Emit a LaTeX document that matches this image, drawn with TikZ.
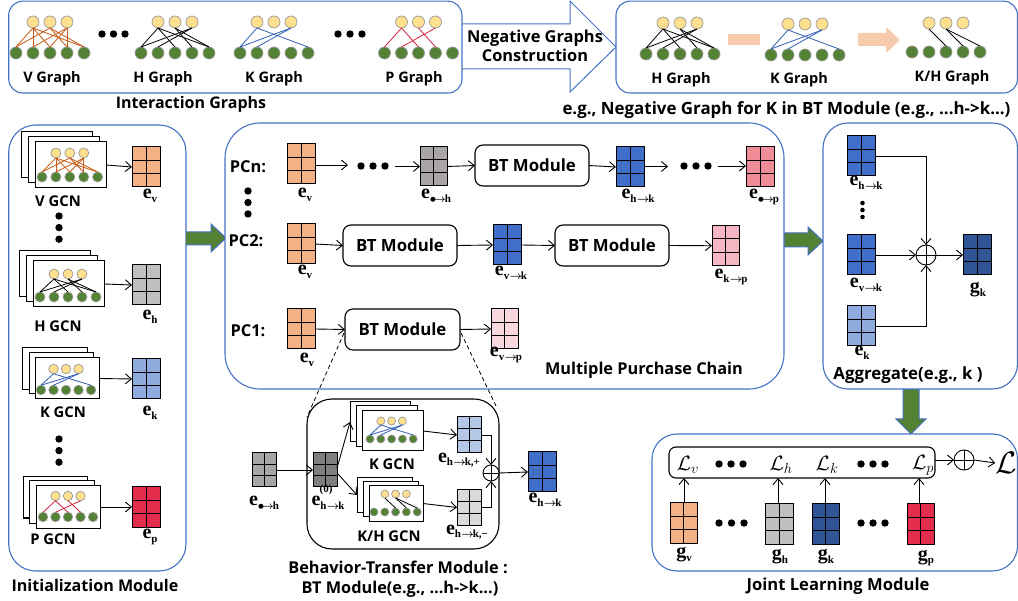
\documentclass[tikz,border=0pt]{standalone}
\usepackage{fontspec}
\setmainfont{Open Sans}
\newfontfamily\eserif{Liberation Serif}
\usetikzlibrary{arrows.meta,calc}
\definecolor{bdblue}{HTML}{4472C4}
\definecolor{gcolor}{HTML}{548235}
\definecolor{ycolor}{HTML}{FFE08E}
\definecolor{orangeE}{HTML}{F4B183}
\definecolor{grayE}{HTML}{BFBFBF}
\definecolor{grayM}{HTML}{A9A5A5}
\definecolor{grayD}{HTML}{7F7F7F}
\definecolor{grayL}{HTML}{D9D9D9}
\definecolor{grayA}{HTML}{A6A6A6}
\definecolor{blueL}{HTML}{8FAADC}
\definecolor{blueLL}{HTML}{B4C7E7}
\definecolor{blueM}{HTML}{3F6FC8}
\definecolor{blueD}{HTML}{2F5597}
\definecolor{redE}{HTML}{E32D4D}
\definecolor{pinkA}{HTML}{F08C97}
\definecolor{pinkB}{HTML}{F4B6C2}
\definecolor{pinkC}{HTML}{F8D7DF}
\definecolor{salmon}{HTML}{F8CBAD}
\definecolor{edgeO}{HTML}{C55A11}
\definecolor{edgeB}{HTML}{2F5FB5}
\definecolor{edgeR}{HTML}{D6203F}
\tikzset{
  txt/.style={inner sep=0pt,outer sep=0pt,anchor=center,align=center},
  gridcell/.style={draw=black,line width=1pt,inner sep=0pt,outer sep=0pt},
  gridline/.style={line width=1pt,draw=black},
  arr/.style={line width=0.9pt,-{Straight Barb[length=6pt,width=10pt]}},
  plain/.style={line width=0.9pt},
  outerbox/.style={draw=bdblue,line width=1.1pt,fill=white,inner sep=0pt,outer sep=0pt},
  blackbox/.style={draw=black,line width=1.1pt,fill=white,inner sep=0pt,outer sep=0pt},
  sheet/.style={draw=black,line width=1pt,fill=white,inner sep=0pt,outer sep=0pt},
  topn/.style={circle,fill=ycolor,draw=gray!80,line width=0.7pt,inner sep=0pt,outer sep=0pt},
  botn/.style={circle,fill=gcolor,draw=gray!80,line width=0.7pt,inner sep=0pt,outer sep=0pt},
  oplusn/.style={circle,draw=black,line width=0.9pt,fill=white,inner sep=0pt,outer sep=0pt,minimum size=#1,
    path picture={\draw[line width=0.8pt] (path picture bounding box.north)--(path picture bounding box.south)
      (path picture bounding box.west)--(path picture bounding box.east);}},
  greenarrow/.style={fill=gcolor,draw=bdblue,line width=1pt},
  dashedline/.style={dashed,line width=0.8pt,dash pattern=on 4pt off 3pt}
}
% rectangle node from its corners
\newcommand\Rct[6]{\pgfmathsetmacro\rw{#4-#2}\pgfmathsetmacro\rh{#5-#3}%
  \node[#6,minimum width=\rw pt,minimum height=\rh pt] (#1) at ({(#2+#4)/2},{(#3+#5)/2}) {};}
% embedding grid, 2 x 3
\newcommand\Grid[6]{\Rct{#1}{#2}{#3}{#4}{#5}{gridcell,fill=#6}%
  \draw[gridline] (#1.north)--(#1.south)
   ($(#1.north west)!1/3!(#1.south west)$)--($(#1.north east)!1/3!(#1.south east)$)
   ($(#1.north west)!2/3!(#1.south west)$)--($(#1.north east)!2/3!(#1.south east)$);}
% bipartite graph
\newcommand\Bip[8]{%
  \foreach \i in {1,...,5}{\node[botn,minimum size=#6 pt] (#1-b\i) at ({#2+(\i-1)*#5},#4) {};}
  \foreach \i in {1,2,3}{\node[topn,minimum size=#6 pt] (#1-t\i) at ({#2+\i*#5},#3) {};}
  \foreach \a/\b in {#8}{\draw[#7,line width=0.8pt] (#1-t\a.south)--(#1-b\b.north);}}
% three dots
\newcommand\Dots[5]{\foreach \i in {0,1,2}{\fill[black] ({#1+\i*#3},{#2+\i*#4}) circle (#5);}}
% bold sans text, y is the middle of the capitals
\newcommand\T[5]{\node[txt,anchor=base,font=\fontsize{#4}{#4}\selectfont\bfseries] (#1) at (#2,{#3+0.357*#4}) {#5};}
% serif label with subscript
\newcommand\Ra{\kern0.3pt{\boldmath$\rightarrow$}\kern-1.2pt}
\newcommand\Bu{{\boldmath$\bullet$}\kern-3pt}
\newcommand\E[5][e]{\node[txt,font=\eserif\bfseries] (#2) at (#3,#4) {\fontsize{20}{20}\selectfont #1\raisebox{-3.5pt}{\fontsize{11}{11}\selectfont #5}};}
\newcommand\BTM[3]{\node[txt,font=\fontsize{16.8}{16.8}\selectfont\bfseries] (#1) at (#2) {#3};}
\begin{document}
\begin{tikzpicture}[x=1pt,y=-1pt]
\useasboundingbox (0,0) rectangle (1018,601);
\fill[white] (0,0) rectangle (1018,601);

% ---------- big arrow
\draw[draw=bdblue,line width=1pt,fill=white] (462,24)--(570,24)--(570,1)--(616,47)--(570,92)--(570,69)--(462,69);
\T{negA}{535}{37}{16.4}{Negative Graphs}
\T{negB}{535}{56}{16.4}{Construction}

% ---------- interaction graphs
\Rct{igbox}{8.7}{1.2}{462}{93}{outerbox,rounded corners=14}
\Bip{gv}{16}{22}{53}{17}{12}{edgeO}{1/1,1/2,1/3,1/5,2/1,2/4,2/5,3/2,3/3,3/4}
\Bip{gh}{141}{22}{53}{17}{12}{black}{1/1,1/3,1/5,2/4,2/5,3/1,3/2}
\Bip{gk}{240}{22}{53}{17}{12}{edgeB}{1/1,1/5,3/1,3/2}
\Bip{gp}{384.5}{22}{53}{17}{12}{edgeR}{1/1,1/3,2/4,3/2}
\Dots{102}{34}{11.5}{0}{3.7}
\Dots{338}{34}{12}{0}{3.7}
\T{lv}{52}{77}{14.5}{V Graph}
\T{lh}{163}{77}{14.5}{H Graph}
\T{lk}{274}{77}{14.5}{K Graph}
\T{lp}{414}{77}{14.5}{P Graph}
\T{lig}{191}{103}{16}{Interaction Graphs}

% ---------- negative graph example
\Rct{ngbox}{616}{1.2}{1017.5}{93}{outerbox,rounded corners=14}
\Bip{nh}{646}{23}{54}{17}{12}{black}{1/1,1/3,1/5,2/4,2/5,3/1,3/2}
\Bip{nk}{771}{24}{55}{17}{12}{edgeB}{1/1,1/5,3/1,3/2}
\Bip{nd}{912}{23}{52}{17}{12}{black}{1/3,2/4,2/5}
\fill[salmon] (728,34) rectangle (760,45);
\fill[salmon] (858,33)--(886,33)--(886,27)--(900,40)--(886,53)--(886,46)--(858,46)--cycle;
\T{lnh}{681}{78}{14.5}{H Graph}
\T{lnk}{799}{78}{14.5}{K Graph}
\T{lnd}{952}{76}{14.5}{K/H Graph}
\T{lng}{786.5}{108}{16.9}{e.g., Negative Graph for K in BT Module (e.g., ...h->k...)}

% ---------- initialization module
\Rct{inbox}{8.7}{125}{186}{571}{outerbox,rounded corners=27}
% V
\Rct{sv1}{21.7}{131.7}{92.3}{178}{sheet}\Rct{sv2}{28}{137}{99.5}{183}{sheet}\Rct{sv3}{35}{142}{106}{188}{sheet}
\Bip{iv}{42}{153}{177}{13.9}{10}{edgeO}{1/1,1/2,1/3,1/5,2/1,2/4,2/5,3/2,3/3,3/4}
\Grid{ev}{132}{147}{160}{187}{orangeE}
\draw[arr] (sv3.east)--(ev.west);
\E{lev}{150}{196}{v}
\T{lvg}{58}{201}{14.8}{V GCN}
\Dots{59}{216}{0}{11.6}{3.7}
% H
\Rct{sh1}{19}{250.7}{90}{296.7}{sheet}\Rct{sh2}{26}{255.7}{97}{301.7}{sheet}\Rct{sh3}{33}{261}{104}{307}{sheet}
\Bip{ih}{40}{274}{297}{14}{10}{black}{1/1,1/3,1/5,2/4,2/5,3/1,3/2}
\Grid{eh}{132}{265}{160}{305}{grayE}
\draw[arr] (sh3.east)--(eh.west);
\E{leh}{150}{317}{h}
\T{lhg}{58}{326}{14.8}{H GCN}
% K
\Rct{sk1}{22.3}{348}{87}{390}{sheet}\Rct{sk2}{29}{353}{93}{394}{sheet}\Rct{sk3}{35}{358}{99}{399}{sheet}
\Bip{ik}{41}{369}{390}{12.5}{9.5}{edgeB}{1/1,1/5,3/1,3/2}
\Grid{ek}{132}{359}{160}{399}{blueL}
\draw[arr] (sk3.east)--(ek.west);
\E{lek}{150}{413}{k}
\T{lkg}{63}{412}{14.8}{K GCN}
\Dots{59}{439}{0}{11.6}{3.7}
% P
\Rct{sp1}{23}{476.7}{87}{518}{sheet}\Rct{sp2}{29}{481}{94}{523}{sheet}\Rct{sp3}{36}{486}{100}{528}{sheet}
\Bip{ip}{43}{496}{517}{12.5}{9.5}{edgeR}{1/1,1/3,2/4,3/2}
\Grid{ep}{132}{487}{160}{527}{redE}
\draw[arr] (sp3.east)--(ep.west);
\E{lep}{150}{537}{p}
\T{lpg}{53}{539}{14.8}{P GCN}
\T{linit}{95}{586}{16.1}{Initialization Module}

% green arrows
\draw[greenarrow] (186,232)--(211,232)--(211,224)--(226,238)--(211,252)--(211,245)--(186,245);
\draw[greenarrow] (784,233)--(808,233)--(808,227)--(823,241)--(808,255)--(808,247)--(784,247);
\draw[greenarrow] (903,389)--(903,419)--(896,419)--(911,434)--(926,419)--(919,419)--(919,389);

% ---------- multiple purchase chain
\Rct{pcbox}{225}{123}{784}{389}{outerbox,rounded corners=35}
\T{pcn}{248}{167}{16.4}{PCn:}
\T{pc2}{246}{241}{16.4}{PC2:}
\T{pc1}{248}{331}{16.4}{PC1:}
\Dots{248}{191}{0}{11.5}{3.7}
% PCn
\Grid{nv}{287}{144}{315}{184}{orangeE}
\Grid{nhh}{420}{147}{447}{186}{grayM}
\Rct{nbt}{475}{145}{589}{186}{blackbox,rounded corners=8}
\BTM{nbtl}{nbt}{BT Module}
\Grid{nbk}{616}{147}{644}{187}{blueM}
\Grid{npp}{746}{147}{774}{187}{pinkA}
\Dots{361}{166}{12}{0}{3.7}
\Dots{684}{166}{12}{0}{3.7}
\coordinate (na) at (348,165);\coordinate (nb) at (395,166.5);\coordinate (nc) at (668,166.5);\coordinate (nd) at (718,166);
\draw[arr] (nv.east |- na)--(na);
\draw[arr] (nb)--(nhh.west |- nb);
\draw[arr] (nhh.east)--(nbt.west);
\draw[arr] (nbt.east)--(nbk.west);
\draw[arr] (nbk.east |- nc)--(nc);
\draw[arr] (nd)--(npp.west |- nd);
\E{lnv}{305}{195}{v}
\E{lnhh}{436}{196}{\Bu\Ra h}
\E{lnbk}{638}{196}{h\Ra k}
\E{lnpp}{764}{197}{\Bu\Ra p}
% PC2
\Grid{mv}{287}{224}{315}{264}{orangeE}
\Rct{mbt}{343}{225}{457}{266}{blackbox,rounded corners=8}
\BTM{mbtl}{mbt}{BT Module}
\Grid{mk}{493}{225}{521}{265}{blueM}
\Rct{mbu}{555}{225}{669}{266}{blackbox,rounded corners=8}
\BTM{mbul}{mbu}{BT Module}
\Grid{mp}{712}{225.5}{739.5}{266}{pinkB}
\draw[arr] (mv.east)--(mbt.west);
\draw[arr] (mbt.east)--(mk.west);
\draw[arr] (mk.east)--(mbu.west);
\draw[arr] (mbu.east)--(mp.west);
\E{lmv}{305}{272}{v}
\E{lmk}{511}{273}{v\Ra k}
\E{lmp}{731}{277}{k\Ra p}
% PC1
\Grid{ov}{287}{309}{315}{349}{orangeE}
\Rct{obt}{345}{309}{460}{350}{blackbox,rounded corners=8}
\BTM{obtl}{obt}{BT Module}
\Grid{op}{491}{309}{518.5}{349}{pinkC}
\draw[arr] (ov.east)--(obt.west);
\draw[arr] (obt.east)--(op.west);
\E{lov}{307}{360}{v}
\E{lop}{506}{355}{v\Ra p}
\T{lmpc}{644}{369}{16.3}{Multiple Purchase Chain}

% ---------- BT module detail
\Rct{btbox}{307}{399}{499}{549}{blackbox,rounded corners=25}
\coordinate (dl) at (307,417);\coordinate (dr) at (497,408);
\coordinate (dlb) at (344,333);\coordinate (drb) at (461,333);
\draw[dashedline] (dlb)--(dl);
\draw[dashedline] (drb)--(dr);
\Grid{bi}{252}{453}{276}{487}{grayA}
\Grid{bd}{313}{453}{337}{487}{grayD}
\Rct{bk1}{350}{402}{410}{442}{sheet}\Rct{bk2}{356}{406}{417}{447}{sheet}\Rct{bk3}{362}{411}{423}{451}{sheet}
\Bip{bk}{370}{421}{439}{10.8}{8}{edgeB}{1/1,1/5,3/1,3/2}
\Rct{bn1}{357}{478}{412}{513}{sheet}\Rct{bn2}{363}{482}{418}{517}{sheet}\Rct{bn3}{369}{486}{423}{521}{sheet}
\Bip{bn}{374}{494}{512}{10.8}{8}{black}{1/3,2/4,2/5}
\Grid{bp}{457}{417}{481}{453}{blueLL}
\Grid{bm}{457}{490}{481}{525}{grayL}
\node[oplusn=16pt] (bsum) at (491,473) {};
\Grid{bf}{528}{452}{556}{492}{blueM}
\draw[arr] (bi.east)--(bd.west);
\coordinate (bdu) at (337,468);\coordinate (bdd) at (338,474);
\draw[arr] (bdu)--(bk1.west |- 352,422);
\draw[arr] (bdd)--(bn1.west |- 357,495);
\draw[arr] (bk3.east)--(bp.west);
\draw[arr] (bn3.east)--(bm.west);
\draw[arr] (bp.east)-|(bsum.north);
\draw[arr] (bm.east)-|(bsum.south);
\draw[arr] (bsum.east)--(bf.west);
\T{lbk}{392}{464}{14.8}{K GCN}
\T{lbn}{389}{536}{14.8}{K/H GCN}
\E{lbi}{264}{503}{\Bu\Ra h}
\E{lbd}{328}{503}{h\Ra k}
\node[txt,font=\eserif\bfseries\fontsize{11}{11}\selectfont] (lbd0) at (326,490) {(0)};
\E{lbp}{459}{460}{h\Ra k,+}
\E{lbm}{467}{532}{h\Ra k,−}
\E{lbf}{545}{500}{h\Ra k}
\T{lbta}{398}{568}{16.3}{Behavior-Transfer Module :}
\T{lbtb}{400}{588}{16.3}{BT Module(e.g., ...h->k...)}

% ---------- aggregate
\Rct{agbox}{823}{123}{1017.5}{389}{outerbox,rounded corners=25}
\Grid{a1}{847}{136}{875}{176}{blueM}
\Grid{a2}{847}{235}{875}{275}{blueM}
\Grid{a3}{847}{306}{875}{346}{blueL}
\Grid{ag}{963}{235}{991}{275}{blueD}
\node[oplusn=20pt] (asum) at (926,255) {};
\draw[arr] (a1.east)-|(asum.north);
\draw[arr] (a2.east)--(asum.west);
\draw[arr] (a3.east)-|(asum.south);
\draw[arr] (asum.east)--(ag.west);
\E{la1}{866}{183}{h\Ra k}
\Dots{862.5}{203}{0}{7}{2.3}
\E{la2}{866}{285}{v\Ra k}
\E{la3}{862}{353}{k}
\E[g]{lag}{978}{290}{k}
\T{lagg}{908}{374}{16.8}{Aggregate(e.g., k )}

% ---------- joint learning
\Rct{jlbox}{652}{434}{1017.5}{571}{outerbox,rounded corners=25}
\Rct{loss}{669}{447}{935}{478}{blackbox,rounded corners=7}
\node[txt,font=\fontsize{20}{20}\selectfont] (lLv) at (688,465) {$\mathcal{L}_v$};
\node[txt,font=\fontsize{20}{20}\selectfont] (lLh) at (781,465) {$\mathcal{L}_h$};
\node[txt,font=\fontsize{20}{20}\selectfont] (lLk) at (827,465) {$\mathcal{L}_k$};
\node[txt,font=\fontsize{20}{20}\selectfont] (lLp) at (923,465) {$\mathcal{L}_p$};
\Dots{719}{464}{12}{0}{3.7}
\Dots{861}{464}{12}{0}{3.7}
\Grid{jv}{670}{503}{697}{543}{orangeE}
\Grid{jh}{765}{504}{793}{544}{grayE}
\Grid{jk}{812}{504}{839}{544}{blueD}
\Grid{jp}{907}{504}{934}{544}{redE}
\Dots{719}{523}{12.5}{0}{3.7}
\Dots{861}{523}{12}{0}{3.7}
\draw[arr] (jv.north -| 684,0)--(684,478);
\draw[arr] (jh.north -| 778,0)--(778,478);
\draw[arr] (jk.north -| 825,0)--(825,478);
\draw[arr] (jp.north -| 919,0)--(919,478);
\node[oplusn=20pt] (jsum) at (964,460) {};
\node[txt,font=\fontsize{26}{26}\selectfont,scale=1.25] (jL) at (1006,463) {$\mathcal{L}$};
\draw[arr] (loss.east |- jsum)--(jsum.west);
\draw[arr] (jsum.east)--(jL.west);
\E[g]{ljv}{684}{555}{v}
\E[g]{ljh}{780}{557}{h}
\E[g]{ljk}{826}{557}{k}
\E[g]{ljp}{926}{558}{p}
\T{ljl}{838}{585}{16.6}{Joint Learning Module}
\end{tikzpicture}
\end{document}
